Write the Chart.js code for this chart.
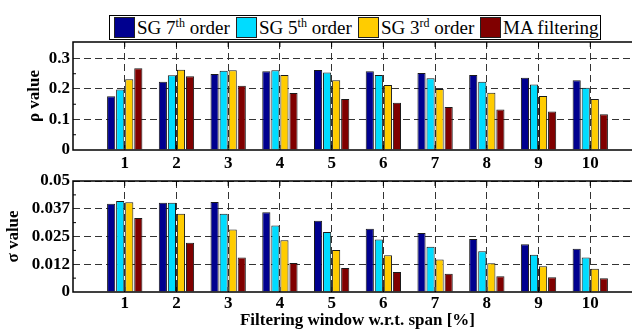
<!DOCTYPE html>
<html>
<head>
<meta charset="utf-8">
<script src="https://cdn.jsdelivr.net/npm/chart.js@4.4.1/dist/chart.umd.min.js"></script>
<style>
  html, body { margin: 0; padding: 0; background: #fff; overflow: hidden; width: 632px; height: 333px; }
  .wrap { position: absolute; left: 0; width: 645px; }
  #topWrap { top: 0; height: 170px; }
  #botWrap { top: 160px; height: 173px; }
  #legend {
    position: absolute; left: 109px; top: 15px; width: 492px; height: 25px;
    box-sizing: border-box; border: 1px solid #000; background: #fff; z-index: 2;
    display: flex; align-items: center; padding-left: 4px;
    font: 19px "Liberation Serif", "Times New Roman", serif; color: #000; white-space: nowrap;
  }
  .item { display: flex; align-items: center; width: 122px; }
  .item:last-child { width: auto; }
  .swatch { width: 21px; height: 21px; border: 1px solid #222; margin-right: 2px; box-sizing: border-box; }
  sup { font-size: 12px; line-height: 0; vertical-align: 7px; }
</style>
</head>
<body>
<div id="legend"></div>
<div class="wrap" id="topWrap"><canvas id="rhoChart"></canvas></div>
<div class="wrap" id="botWrap"><canvas id="sigmaChart"></canvas></div>
<script>
// Filtering window as % of span
const windows = ["1", "2", "3", "4", "5", "6", "7", "8", "9", "10"]
const seriesNames = ["SG 7th order", "SG 5th order", "SG 3rd order", "MA filtering"]
const seriesColors = ["#00008f", "#00dcff", "#ffcc00", "#800000"]

// rho value
const rhoSG7 = [0.176, 0.224, 0.249, 0.258, 0.262, 0.258, 0.252, 0.246, 0.237, 0.229]
const rhoSG5 = [0.198, 0.245, 0.260, 0.261, 0.254, 0.246, 0.235, 0.224, 0.215, 0.204]
const rhoSG3 = [0.232, 0.263, 0.261, 0.246, 0.229, 0.213, 0.200, 0.188, 0.177, 0.167]
const rhoMA = [0.268, 0.242, 0.211, 0.187, 0.167, 0.155, 0.141, 0.133, 0.126, 0.117]
const rhoTicks = [0, 0.1, 0.2, 0.3]
const rhoTickLabels = ["0", "0.1", "0.2", "0.3"]

// sigma value
const sigmaSG7 = [0.0398, 0.0402, 0.0405, 0.0359, 0.0321, 0.0285, 0.0266, 0.0239, 0.0215, 0.0195]
const sigmaSG5 = [0.0410, 0.0402, 0.0353, 0.0300, 0.0270, 0.0237, 0.0204, 0.0183, 0.0168, 0.0155]
const sigmaSG3 = [0.0404, 0.0353, 0.0282, 0.0233, 0.0189, 0.0165, 0.0146, 0.0129, 0.0116, 0.0105]
const sigmaMA = [0.0333, 0.0222, 0.0155, 0.0131, 0.0108, 0.0090, 0.0082, 0.0071, 0.0066, 0.0062]
const sigmaTicks = [0, 0.0125, 0.025, 0.0375, 0.05]
const sigmaTickLabels = ["0", "0.012", "0.025", "0.037", "0.05"]

const FONT = "'Liberation Serif', 'Times New Roman', serif"
const boldFont = { family: FONT, size: 17, weight: "bold" }
const gridColor = "#333"

// legend with superscripts
const legend = document.getElementById("legend")
seriesNames.forEach((name, i) => {
  const item = document.createElement("div")
  item.className = "item"
  item.innerHTML = `<span class="swatch" style="background:${seriesColors[i]}"></span>` +
    `<span>${name.replace(/(\d)(th|rd)/, "$1<sup>$2</sup>")}</span>`
  legend.appendChild(item)
})

// box around the plot + small inward ticks like matlab
const framePlugin = {
  id: "frame",
  afterDraw(chart, args, opts) {
    const { ctx, chartArea: a, scales } = chart
    ctx.save()
    ctx.strokeStyle = "#000"
    ctx.lineWidth = 1
    const ticks = opts.ticks
    for (let i = 0; i < ticks.length - 1; i++) {
      const y = scales.y.getPixelForValue((ticks[i] + ticks[i + 1]) / 2)
      ctx.beginPath()
      ctx.moveTo(a.left, y)
      ctx.lineTo(a.left + 3, y)
      ctx.stroke()
    }
    windows.forEach((w, i) => {
      const x = scales.x.getPixelForTick(i + 1)
      ctx.beginPath()
      ctx.moveTo(x, a.top)
      ctx.lineTo(x, a.top + 5)
      ctx.moveTo(x, a.bottom)
      ctx.lineTo(x, a.bottom - 5)
      ctx.stroke()
    })
    ctx.lineWidth = 1.5
    ctx.strokeRect(a.left, a.top, a.width, a.height)
    ctx.restore()
  },
}

function makeChart(id, series, yMax, yTicks, yTickLabels, yTitle, cfg) {
  const ctx = document.getElementById(id)
  return new Chart(ctx, {
    type: "bar",
    data: {
      labels: ["", ...windows, ""],
      datasets: series.map((values, i) => ({
        label: seriesNames[i],
        data: [null, ...values, null],
        backgroundColor: seriesColors[i],
        borderColor: "#1a1a1a",
        borderWidth: 1,
        categoryPercentage: 0.7,
        barPercentage: 0.9,
      })),
    },
    options: {
      responsive: true,
      maintainAspectRatio: false,
      animation: false,
      layout: { padding: { top: cfg.top, left: 0, right: 3, bottom: 0 } },
      scales: {
        x: {
          type: "category",
          offset: false,
          grid: {
            offset: false,
            drawTicks: false,
            color: (c) => (c.index === 0 ? "transparent" : gridColor),
          },
          border: { display: false, dash: [7, 4] },
          ticks: { padding: cfg.xPad, autoSkip: false, maxRotation: 0, color: "#000", font: boldFont },
          title: cfg.xTitle
            ? { display: true, text: cfg.xTitle, color: "#000", font: boldFont, padding: { top: 0, bottom: 2 } }
            : { display: false },
          afterFit: (s) => { s.height = cfg.xHeight },
        },
        y: {
          min: 0,
          max: yMax,
          afterBuildTicks: (s) => { s.ticks = yTicks.map((v) => ({ value: v })) },
          afterFit: (s) => { s.width = 73 },
          grid: {
            drawTicks: false,
            color: (c) => (c.tick && c.tick.value === 0 ? "transparent" : gridColor),
          },
          border: { display: false, dash: [7, 4] },
          ticks: { padding: 3, color: "#000", font: boldFont, callback: (v, i) => yTickLabels[i] },
          title: { display: true, text: yTitle, color: "#000", font: boldFont, padding: { top: cfg.titlePad, bottom: 0 } },
        },
      },
      plugins: {
        legend: { display: false },
        tooltip: { enabled: false },
        frame: { ticks: yTicks },
      },
    },
    plugins: [framePlugin],
  })
}

makeChart("rhoChart", [rhoSG7, rhoSG5, rhoSG3, rhoMA], 0.354, rhoTicks, rhoTickLabels, "ρ value",
  { top: 42, xHeight: 20, xPad: 3, titlePad: 24 })
makeChart("sigmaChart", [sigmaSG7, sigmaSG5, sigmaSG3, sigmaMA], 0.05, sigmaTicks, sigmaTickLabels, "σ value",
  { top: 21, xHeight: 41, xPad: 1, titlePad: 3, xTitle: "Filtering window w.r.t. span [%]" })
</script>
</body>
</html>
